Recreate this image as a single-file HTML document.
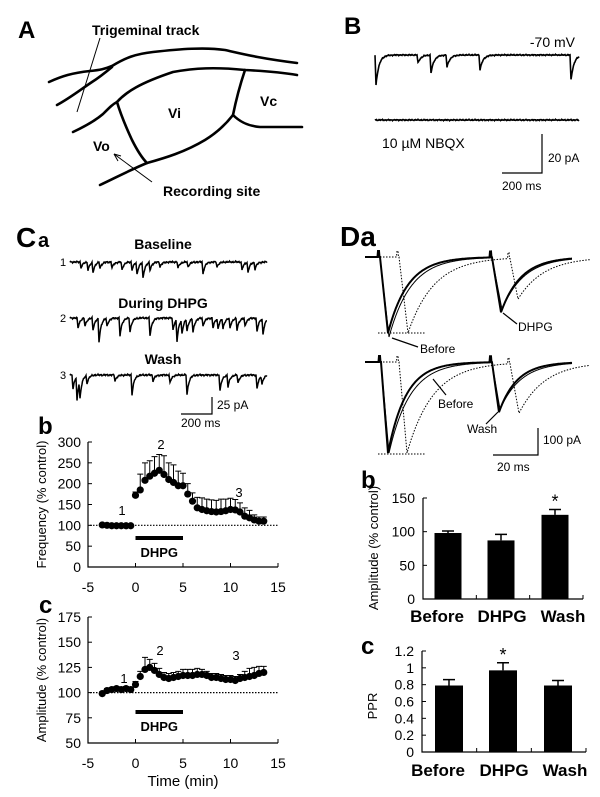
<!DOCTYPE html>
<html><head><meta charset="utf-8"><style>
html,body{margin:0;padding:0;background:#fff}
svg{display:block;font-family:"Liberation Sans",Arial,sans-serif}
</style></head><body>
<svg id="fig" width="600" height="797" viewBox="0 0 600 797" xmlns="http://www.w3.org/2000/svg">
<!-- Panel A -->
<g fill="none" stroke="#000" stroke-width="2.6" stroke-linecap="round" stroke-linejoin="round">
<path d="M49,82 C62,76 72,73 90,71 C100,70 105,69 112,66 C125,58 135,54 153,52 C180,49 205,47 225,50 C243,54 258,58 297,63"/>
<path d="M57,105 C70,98 80,90 92,82 C100,77 106,72 112,67"/>
<path d="M73,132 C88,125 96,120 103,114 C110,107 113,104 117,102 C126,92 140,83 173,72 C195,68 215,67 245,70 C265,71 285,73 297,75"/>
<path d="M117,102 C120,112 125,125 132,140 C138,152 142,158 147,163"/>
<path d="M100,185 C115,178 130,170 147,163 C165,158 185,152 205,140 C218,132 226,124 233,115"/>
<path d="M245,70 C240,85 236,100 233,115"/>
<path d="M233,115 C240,122 248,126 260,127 C275,127 290,127 302,127"/>
</g>
<line x1="100" y1="38" x2="77" y2="112" stroke="#000" stroke-width="1"/>
<line x1="152" y1="182" x2="114" y2="154" stroke="#000" stroke-width="1"/>
<path d="M114,154 L118,161 M114,154 L121,156" stroke="#000" stroke-width="1" fill="none"/>
<text x="18" y="38" font-size="24" font-weight="bold">A</text>
<text x="92" y="35" font-size="14" font-weight="bold">Trigeminal track</text>
<text x="168" y="118" font-size="14" font-weight="bold">Vi</text>
<text x="260" y="106" font-size="14" font-weight="bold">Vc</text>
<text x="93" y="151" font-size="14" font-weight="bold">Vo</text>
<text x="163" y="196" font-size="14" font-weight="bold">Recording site</text>

<!-- Panel B -->
<text x="344" y="34" font-size="24" font-weight="bold">B</text>
<text x="575" y="47" font-size="14" text-anchor="end">-70 mV</text>
<g id="bTraces"></g>
<text x="382" y="148" font-size="14">10 µM NBQX</text>
<path d="M542,134 L542,173 L502,173" stroke="#000" stroke-width="1.2" fill="none"/>
<text x="548" y="162" font-size="12">20 pA</text>
<text x="502" y="190" font-size="12">200 ms</text>

<!-- Panel Ca -->
<text x="16" y="247" font-size="28" font-weight="bold">C</text>
<text x="38" y="247" font-size="20" font-weight="bold">a</text>
<text x="163" y="249" font-size="14" font-weight="bold" text-anchor="middle">Baseline</text>
<text x="163" y="308" font-size="14" font-weight="bold" text-anchor="middle">During DHPG</text>
<text x="163" y="364" font-size="14" font-weight="bold" text-anchor="middle">Wash</text>
<text x="60" y="266" font-size="11">1</text>
<text x="60" y="322" font-size="11">2</text>
<text x="60" y="379" font-size="11">3</text>
<g id="caTraces"></g>
<path d="M212,397 L212,414 L181,414" stroke="#000" stroke-width="1.2" fill="none"/>
<text x="217" y="409" font-size="12">25 pA</text>
<text x="181" y="427" font-size="12">200 ms</text>

<!-- Panel Cb/Cc -->
<text x="38" y="434" font-size="24" font-weight="bold">b</text>
<g id="cb"></g>
<text x="39" y="613" font-size="24" font-weight="bold">c</text>
<g id="cc"></g>
<text x="183" y="786" font-size="15" text-anchor="middle">Time (min)</text>

<!-- Panel Da -->
<text x="340" y="246" font-size="28" font-weight="bold">Da</text>
<g id="daTraces"></g>
<line x1="378" y1="333" x2="425" y2="333" stroke="#000" stroke-width="1" stroke-dasharray="1.5,1.5"/>
<line x1="378" y1="454" x2="425" y2="454" stroke="#000" stroke-width="1" stroke-dasharray="1.5,1.5"/>
<line x1="392" y1="338" x2="418" y2="347" stroke="#000" stroke-width="1.2"/>
<text x="420" y="353" font-size="12">Before</text>
<line x1="503" y1="313" x2="517" y2="324" stroke="#000" stroke-width="1.2"/>
<text x="518" y="331" font-size="12">DHPG</text>
<line x1="433" y1="379" x2="446" y2="395" stroke="#000" stroke-width="1.2"/>
<text x="438" y="408" font-size="12">Before</text>
<line x1="498" y1="412" x2="486" y2="424" stroke="#000" stroke-width="1.2"/>
<text x="467" y="433" font-size="12">Wash</text>
<path d="M538,428 L538,455 L493,455" stroke="#000" stroke-width="1.2" fill="none"/>
<text x="543" y="444" font-size="12">100 pA</text>
<text x="497" y="471" font-size="12">20 ms</text>

<!-- Panel Db/Dc -->
<text x="361" y="488" font-size="24" font-weight="bold">b</text>
<g id="db"></g>
<text x="361" y="654" font-size="24" font-weight="bold">c</text>
<g id="dc"></g>
</svg>
<script>
// ---- Data: time course (Cb, Cc) ----
const times = [-3.5,-3,-2.5,-2,-1.5,-1,-0.5,0,0.5,1,1.5,2,2.5,3,3.5,4,4.5,5,5.5,6,6.5,7,7.5,8,8.5,9,9.5,10,10.5,11,11.5,12,12.5,13,13.5];
const freqValues = [101,100,99,99,99,99,99,172,185,208,218,225,232,222,210,203,195,195,175,158,142,138,135,133,132,133,135,138,137,132,122,118,113,110,110];
const freqErrors = [3,2,2,2,2,2,2,8,38,42,37,40,38,45,40,42,35,30,25,20,25,28,28,28,28,30,28,27,25,22,20,18,12,10,10];
const ampValues = [99,102,103,104,103,104,103,108,116,123,125,122,118,115,114,115,116,117,117,117,118,118,117,115,115,114,113,113,112,114,115,116,117,119,120];
const ampErrors = [2,2,2,2,2,2,2,3,5,12,8,7,6,5,5,5,5,6,6,6,6,5,4,4,4,4,4,4,4,4,6,8,8,7,6];
const timeTicks = [-5,0,5,10,15];
const freqTicks = [0,50,100,150,200,250,300];
const ampTicks = [50,75,100,125,150,175];
// ---- Data: bar charts (Db, Dc) ----
const groups = ["Before","DHPG","Wash"];
const barAmp = [98,87,125];
const barAmpErr = [3,9,8];
const barAmpTicks = [0,50,100,150];
const barPPR = [0.79,0.97,0.79];
const barPPRErr = [0.07,0.09,0.06];
const barPPRTicks = [0,0.2,0.4,0.6,0.8,1,1.2];
const ampSignificant = [false,false,true];
const pprSignificant = [false,true,false];
// ---- Data: Ca trace events [position, amplitude] ----
const evBaseline = [[81,6],[88,8],[93,10],[100,6],[112,6],[122,8],[132,8],[137,12],[143,16],[150,8],[160,5],[178,6],[188,5],[203,12],[217,5],[242,8],[248,10],[255,7]];
const evDuring = [[78,10],[85,8],[93,12],[99,24],[107,8],[120,18],[130,14],[150,18],[173,12],[177,22],[182,14],[187,12],[193,14],[203,8],[213,10],[218,10],[223,10],[230,10],[237,12],[245,8],[257,14],[263,16]];
const evWash = [[73,14],[77,24],[80,18],[87,8],[115,6],[132,20],[153,6],[170,8],[187,20],[220,16],[228,12],[238,8],[257,14],[262,8]];
const evB = [[376,30],[418,8],[431,18],[447,12],[480,15],[571,25]];

const NS="http://www.w3.org/2000/svg";
function mk(parent,tag,attrs){const e=document.createElementNS(NS,tag);for(const k in attrs)e.setAttribute(k,attrs[k]);parent.appendChild(e);return e;}
function noise(x,s){return s*(0.6*Math.sin(x*2.1)+0.5*Math.sin(x*5.3+1)+0.3*Math.sin(x*11.7+2));}

function spontTrace(g,x0,x1,base,events,tau,nz,sw){
  let d="";
  for(let x=x0;x<=x1;x+=0.5){
    let y=base+noise(x,nz);
    for(const [ex,a] of events){ if(x>=ex-0.5){const dt=x-ex; y+= dt<0? a*0.5 : a*Math.exp(-dt/tau);} }
    d+=(x===x0?"M":"L")+x.toFixed(1)+","+y.toFixed(1);
  }
  const p=mk(g,"path",{d:d,fill:"none",stroke:"#000","stroke-width":sw});
  
  
}
const bg=document.getElementById('bTraces');
spontTrace(bg,375,579,55,evB,3,0.5,1.6);
spontTrace(bg,375,579,120,[],3,0.5,1.6);
const cg=document.getElementById('caTraces');
spontTrace(cg,70,267,262,evBaseline,2,0.7,1.5);
spontTrace(cg,70,267,318,evDuring,2,0.7,1.5);
spontTrace(cg,70,267,375,evWash,2,0.7,1.5);

function epsc(g,x0,x1,base,stims,dash,sw,tau){
  let d="";
  for(let x=x0;x<=x1;x+=0.5){
    let y=base;
    for(const s of stims){
      const [sx,px,A]=s;
      if(x>=sx && x<sx+1.5) y-=6;
      if(x>=sx+2 && x<px) y+=A*(x-sx-2)/(px-sx-2);
      if(x>=px) y+=A*Math.exp(-(x-px)/tau);
    }
    d+=(x===x0?"M":"L")+x.toFixed(1)+","+y.toFixed(1);
  }
  const p=mk(g,"path",{d:d,fill:"none",stroke:"#000","stroke-width":sw});
  if(dash)p.setAttribute("stroke-dasharray","1.5,1.5");
  
  
}
const dg=document.getElementById('daTraces');
epsc(dg,365,572,257,[[378,388,76],[490,501,55]],false,2,20);
epsc(dg,365,572,257,[[378,389,80],[490,502,52]],false,1,22);
epsc(dg,380,590,257,[[397,408,76],[508,518,41]],true,1,26);
epsc(dg,365,572,362,[[379,388,91],[490,499,50]],false,2,18);
epsc(dg,365,572,362,[[379,389,91],[490,500,47]],false,1,21);
epsc(dg,380,590,362,[[397,407,91],[508,519,50]],true,1,26);

function timeChart(id,vals,errs,ticks,yMin,yMax,yTop,yBot,title,labels,barY,dhpgY){
  const g=document.getElementById(id);
  const xL=88,xR=278;
  const X=t=>xL+(t-(-5))*(xR-xL)/20;
  const Y=v=>yBot-(v-yMin)*(yBot-yTop)/(yMax-yMin);
  let a=mk(g,"path",{d:`M${xL},${yTop} L${xL},${yBot} L${xR},${yBot}`,fill:"none",stroke:"#000","stroke-width":1.2});
  
  for(const t of ticks){
    const tk=mk(g,"line",{x1:xL,x2:xL+4,y1:Y(t),y2:Y(t),stroke:"#000","stroke-width":1});
    
    const tl=mk(g,"text",{x:xL-7,y:Y(t)+5,"font-size":14,"text-anchor":"end"});tl.textContent=t;
    
  }
  for(const t of timeTicks){
    const tk=mk(g,"line",{x1:X(t),x2:X(t),y1:yBot,y2:yBot-4,stroke:"#000","stroke-width":1});
    
    const tl=mk(g,"text",{x:X(t),y:yBot+25,"font-size":14,"text-anchor":"middle"});tl.textContent=t;
    
  }
  const ref=mk(g,"line",{x1:xL+2,x2:xR,y1:Y(100),y2:Y(100),stroke:"#000","stroke-width":1.2,"stroke-dasharray":"1.5,1.5"});
  
  vals.forEach((v,i)=>{
    const x=X(times[i]);
    const e=mk(g,"path",{d:`M${x},${Y(v)} L${x},${Y(v+errs[i])} M${x-3},${Y(v+errs[i])} L${x+3},${Y(v+errs[i])}`,stroke:"#000","stroke-width":1,fill:"none"});
    
  });
  vals.forEach((v,i)=>{
    const c=mk(g,"circle",{cx:X(times[i]),cy:Y(v),r:3.6,fill:"#000"});
    
  });
  const bar=mk(g,"rect",{x:X(0),y:barY-2,width:X(5)-X(0),height:4,fill:"#000"});
  
  const bt=mk(g,"text",{x:(X(0)+X(5))/2,y:dhpgY,"font-size":13,"font-weight":"bold","text-anchor":"middle"});bt.textContent="DHPG";
  
  for(const [txt,lx,ly] of labels){
    const t=mk(g,"text",{x:lx,y:ly,"font-size":13,"text-anchor":"middle"});t.textContent=txt;
    
  }
  const cy=(yTop+yBot)/2;
  const tt=mk(g,"text",{x:0,y:0,"font-size":13,"text-anchor":"middle",transform:`translate(46,${cy}) rotate(-90)`});tt.textContent=title;
  
}
timeChart('cb',freqValues,freqErrors,freqTicks,0,300,442,567,"Frequency (% control)",[["1",122,515],["2",161,449],["3",239,497]],538,557);
timeChart('cc',ampValues,ampErrors,ampTicks,50,175,617,743,"Amplitude (% control)",[["1",124,683],["2",160,655],["3",236,660]],712,731);

function barChart(id,vals,errs,sig,ticks,yMax,xL,xR,yTop,yBot,centers,bw,title,titleY,fmt,catY,tfs,catX){
  const g=document.getElementById(id);
  const Y=v=>yBot-v*(yBot-yTop)/yMax;
  let a=mk(g,"path",{d:`M${xL},${yTop} L${xL},${yBot} L${xR},${yBot}`,fill:"none",stroke:"#000","stroke-width":1.2});
  
  for(const t of ticks){
    const tk=mk(g,"line",{x1:xL,x2:xL+4,y1:Y(t),y2:Y(t),stroke:"#000","stroke-width":1});
    
    const tl=mk(g,"text",{x:xL-8,y:Y(t)+5,"font-size":14,"text-anchor":"end"});tl.textContent=fmt(t);
    
  }
  const step=(xR-xL)/3;
  for(let k=1;k<=3;k++){
    const tk=mk(g,"line",{x1:xL+k*step,x2:xL+k*step,y1:yBot,y2:yBot-4,stroke:"#000","stroke-width":1});
    
  }
  vals.forEach((v,i)=>{
    const c=centers[i];
    const e=mk(g,"path",{d:`M${c},${Y(v)} L${c},${Y(v+errs[i])} M${c-6},${Y(v+errs[i])} L${c+6},${Y(v+errs[i])}`,stroke:"#000","stroke-width":1.5,fill:"none"});
    
    const r=mk(g,"rect",{x:c-bw/2,y:Y(v),width:bw,height:yBot-Y(v),fill:"#000"});
    
    if(sig[i]){const s=mk(g,"text",{x:c,y:Y(v+errs[i])-2,"font-size":18,"text-anchor":"middle"});s.textContent="*";
      }
    const cl=mk(g,"text",{x:catX[i],y:catY,"font-size":17,"font-weight":"bold","text-anchor":"middle"});cl.textContent=groups[i];
    
  });
  const tt=mk(g,"text",{x:0,y:0,"font-size":tfs,"text-anchor":"middle",transform:`translate(${xL-45},${titleY}) rotate(-90)`});tt.textContent=title;
  
}
barChart('db',barAmp,barAmpErr,ampSignificant,barAmpTicks,150,423,583,498,599,[448,501,555],27,"Amplitude (% control)",548,t=>t,622,13,[437,502,563]);
barChart('dc',barPPR,barPPRErr,pprSignificant,barPPRTicks,1.2,422,586,651,752,[449,503,558],28,"PPR",706,t=>String(Math.round(t*10)/10),776,13,[438,504,565]);
</script>
</body></html>
